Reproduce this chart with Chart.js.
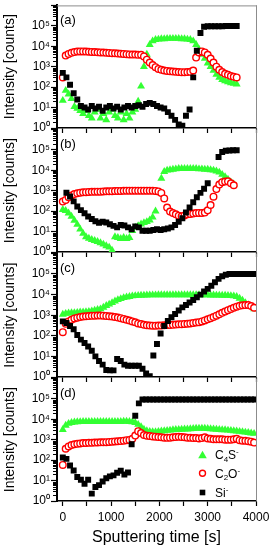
<!DOCTYPE html>
<html><head><meta charset="utf-8">
<script src="https://cdn.jsdelivr.net/npm/chart.js@4.4.0/dist/chart.umd.min.js"></script>
<style>
html,body{margin:0;padding:0;background:#fff;}
#wrap{position:relative;width:271px;height:550px;overflow:hidden;background:#fff;}
canvas{position:absolute;left:0;}
</style></head><body><div id="wrap"></div>
<script>
// ---------- data ----------
const tDense = [0,60,120,180,240,300,360,420,480,540,600,660,720,780,840,900,960,1020,1080,1140,1200,1260,1320,1380,1440,1500,1560,1620,1680,1740,1800,1860,1920,1980,2040,2100,2160,2220,2280,2340,2400,2460,2520,2580,2640,2700,2760,2820,2880,2940,3000,3060,3120,3180,3240,3300,3360,3420,3480,3540,3600,3660,3720,3780,3840,3900,3960];
const tSi = [0,75,150,225,300,375,450,525,600,675,750,825,900,975,1050,1125,1200,1275,1350,1425,1500,1575,1650,1725,1800,1875,1950,2025,2100,2175,2250,2325,2400,2475,2550,2625,2700,2775,2850,2925,3000,3075,3150,3225,3300,3375,3450,3525,3600,3675,3750,3825,3900,3975];

// panel (a)
const aC4S = [22,68,45,27,11,9,7,5,7,4, 3,6,8,3,5,2.5,6,8,4,3, 6,2.5,5,3,6,8,20,110,1000,4000, 12000,18000,21000,22000,23000,23000,24000,24000,24000,24000, 24000,23000,23000,22000,21000,18000,12000,7000,4000,2500, 1500,1000,650,420,300,230,200,180,160,150, 140];
const aC2O = [300,3500,4200,4800,5200,5500,5600,5600,5500,5400, 5300,5200,5100,5000,4900,4800,4700,4600,4500,4400, 4300,4200,4100,4000,3900,3900,3800,3800,3200,2200, 1600,1200,950,780,700,650,620,600,580,560, 550,540,540,550,560,650,2800,5000,5600,5000, 3800,2500,1600,1000,700,550,450,400,350,320, 300];
const aSi = [500,300,130,50,25,12,10,8,12,9, 11,7,10,12,9,11,8,10,12,10, 12,13,11,15,17,15,12,10,9,6, 4,2.5,1.5,1.3,4,8,300,6000,45000,90000, 95000,95000,95000,95000,95000,98000,98000,98000,98000];

// panel (b)
const bC4S = [118,105,80,55,35,22,13,8,5.5,4.6, 4,3.6,3.2,2.8,2.4,2,1.7,1.2,5.5,5, 4.5,5,4.5,5,11,16,19,23,27,30, 36,50,100,800,4000,8500,10000,10500,11000,11500, 12000,12000,12000,12000,12000,12000,12000,11500,11500,11000, 11000,10500,10000,9000,8000,6200,4800,3600,2600,2100];
const bC2O = [295,355,480,590,680,750,800,830,850,870, 880,890,900,900,920,930,940,950,960,970, 980,990,1000,1000,1000,1000,1000,1000,1000,1000, 1000,990,970,920,780,420,150,95,80,70, 60,56,62,70,73,76,80,82,82,85, 110,200,510,1200,2000,2600,2800,2900,2300,1850];
const bSi = [null,800,520,300,170,112,78,55,41,32, 27,30,28,23,19,16,21,20,16,13, 18,16,11,11,11,12,13,12,13,14, 16,21,30,45,85,150,270,480,780,1250, 2300,null,null,45000,78000,90000,92000,95000,95000];

// panel (c)
const cC4S = [1100,1200,1250,1300,1300,1350,1400,1400,1450,1500, 1600,1700,1850,2000,2400,2900,3400,4000,4800,5600, 6300,7000,7500,8000,8500,8800,9000,9200,9300,9400, 9500,9500,9500,9600,9600,9600,9600,9600,9600,9600, 9600,9600,9600,9600,9600,9600,9600,9600,9500,9500, 9500,9400,9400,9300,9300,9200,9100,9000,8800,8500, 8000,6500,5200,4000,3200,2600,2000];
const cC2O = [150,380,500,600,700,760,820,860,890,910, 930,950,960,960,950,920,890,860,820,770, 720,660,600,550,500,450,400,370,340,325, 315,310,310,315,320,325,330,335,340,350, 360,365,375,385,400,420,440,460,500,560, 630,720,820,950,1100,1300,1500,1750,2000,2300, 2600,2850,3000,3100,3100,2800,2300];
const cSi = [500,420,300,210,110,65,45,30,19,10, 6,4,2.2,2.1,2.1,7.5,6,4,3.5,3.5, 3.5,3.5,2.5,1.5,1.1,11,40,130,300,520, 800,1150,1700,2400,3100,4100,5500,7500,10000,14000, 19000,27000,40000,58000,78000,92000,100000,100000,100000,100000, 100000,100000,100000,100000];

// panel (d)
const dC4S = [3100,5000,6200,6800,7200,7400,7500,7600,7600,7600, 7700,7700,7700,7700,7700,7700,7700,7600,7600,7600, 7700,7800,7800,7700,7400,6800,5500,4200,3200,2700, 2500,2400,2400,2500,2600,2700,2800,2900,3000,3100, 3100,3200,3300,3300,3400,3500,3600,3600,3600,3600, 3500,3400,3300,3200,3100,3000,3000,2900,2800,2700, 2600,2500,2400,2300,2200,2100,2000];
const dC2O = [58,360,470,550,600,630,660,680,690,700, 710,720,730,740,750,760,780,800,820,840, 860,900,950,980,1100,1600,2600,2100,1700,1550, 1500,1450,1400,1350,1300,1250,1230,1250,1300,1350, 1380,1350,1300,1250,1230,1200,1200,1150,1200,1300, 1150,1100,1050,1050,1050,1050,1000,1000,1000,1050, 1100,950,900,880,850,800,720];
const dSi = [135,115,55,31,15,11,7,11,2.3,4.8, 6,9,13,16,18,24,30,20,25,600, 15000,60000,92000,92000,92000,92000,92000,92000,92000,92000, 92000,92000,92000,92000,92000,92000,92000,92000,92000,92000, 92000,92000,92000,92000,92000,92000,92000,92000,92000,92000, 92000,92000,92000,92000];

// axes / labels
const yMajor = [1,10,100,1000,10000,100000,1000000];
const yTickLabels = ['10\u2070','10\u00B9','10\u00B2','10\u00B3','10\u2074','10\u2075'];
const xTickValues = [0,500,1000,1500,2000,2500,3000,3500,4000];
const xLabelValues = [0,1000,2000,3000,4000];
const xTickLabels = ['0','1000','2000','3000','4000'];
const panelLabels = ['(a)','(b)','(c)','(d)'];
const yTitle = 'Intensity [counts]';
const xTitle = 'Sputtering time [s]';

// ---------- drawing ----------
const FONT = "'Liberation Sans', Arial, Helvetica, sans-serif";
const yAllTicks = [];
for (let d = 0; d < 6; d++) { for (let m = 1; m <= 9; m++) yAllTicks.push(m * yMajor[d]); }
yAllTicks.push(1000000);
const yMinor = yAllTicks.filter(v => !yMajor.includes(v));

const panels = [
  {label: panelLabels[0], top: 4,   bottom: 128, c4s: aC4S, c2o: aC2O, si: aSi},
  {label: panelLabels[1], top: 128, bottom: 252, c4s: bC4S, c2o: bC2O, si: bSi},
  {label: panelLabels[2], top: 252, bottom: 377, c4s: cC4S, c2o: cC2O, si: cSi},
  {label: panelLabels[3], top: 377, bottom: 501, c4s: dC4S, c2o: dC2O, si: dSi}
];

function series(times, vals) {
  const out = [];
  vals.forEach((v, i) => { if (v !== null) out.push({x: times[i], y: v}); });
  return out;
}

function drawFormula(ctx, x, cy, parts) {
  const base = cy + 4.3;
  parts.forEach(([txt, kind]) => {
    let dy = 0;
    if (kind === 'n') { ctx.font = '12px ' + FONT; }
    else if (kind === 'sub') { ctx.font = '8px ' + FONT; dy = 2.5; }
    else { ctx.font = '8px ' + FONT; dy = -5; }
    ctx.fillText(txt, x, base + dy);
    x += ctx.measureText(txt).width;
  });
}

const wrap = document.getElementById('wrap');
panels.forEach((p, idx) => {
  const isBottom = idx === panels.length - 1;
  const canvasTop = p.top - 4;
  const canvasH = isBottom ? 550 - canvasTop : (p.bottom - p.top) + 4 + 10;
  const xAxisH = canvasH - 4 - (p.bottom - p.top);
  const cv = document.createElement('canvas');
  cv.width = 271; cv.height = canvasH;
  cv.style.top = canvasTop + 'px';
  cv.style.width = '271px'; cv.style.height = canvasH + 'px';
  wrap.appendChild(cv);

  const deco = {
    id: 'deco' + idx,
    afterDraw(chart) {
      const {ctx, chartArea: ca, scales} = chart;
      ctx.save();
      ctx.strokeStyle = '#8c8c8c'; ctx.lineWidth = 1;
      ctx.beginPath(); ctx.moveTo(ca.right + 0.5, ca.top); ctx.lineTo(ca.right + 0.5, ca.bottom); ctx.stroke();
      if (idx === 0) {
        ctx.beginPath(); ctx.moveTo(ca.left, ca.top + 0.5); ctx.lineTo(ca.right + 1, ca.top + 0.5); ctx.stroke();
      }
      ctx.strokeStyle = '#000'; ctx.lineWidth = 1;
      yMinor.forEach(v => {
        const y = Math.round(scales.y.getPixelForValue(v)) + 0.5;
        ctx.beginPath(); ctx.moveTo(ca.left - 4, y); ctx.lineTo(ca.left, y); ctx.stroke();
      });
      ctx.fillStyle = '#000';
      ctx.textAlign = 'left'; ctx.textBaseline = 'alphabetic';
      ctx.font = '13px ' + FONT;
      ctx.fillText(p.label, ca.left + 3, ca.top + 18.5);
      ctx.save();
      ctx.translate(14, (ca.top + ca.bottom) / 2);
      ctx.rotate(-Math.PI / 2);
      ctx.font = '14px ' + FONT; ctx.textAlign = 'center'; ctx.textBaseline = 'alphabetic';
      ctx.fillText(yTitle, 0, 0);
      ctx.restore();
      if (isBottom) {
        ctx.font = '16px ' + FONT; ctx.textAlign = 'center';
        ctx.fillText(xTitle, (ca.left + ca.right) / 2, 542 - canvasTop);
        // legend
        const off = canvasTop;
        const lx = 202.5, tx = 215;
        const y1 = 455 - off, y2 = 473.3 - off, y3 = 492.5 - off;
        ctx.fillStyle = '#33ff33';
        ctx.beginPath();
        ctx.moveTo(lx, y1 - 4.3); ctx.lineTo(lx + 4.3, y1 + 3.2); ctx.lineTo(lx - 4.3, y1 + 3.2); ctx.closePath(); ctx.fill();
        ctx.strokeStyle = '#ff0000'; ctx.lineWidth = 1.4; ctx.fillStyle = '#fff';
        ctx.beginPath(); ctx.arc(lx, y2, 3, 0, Math.PI * 2); ctx.fill(); ctx.stroke();
        ctx.fillStyle = '#000';
        ctx.fillRect(lx - 2.8, y3 - 2.8, 5.6, 5.6);
        ctx.textAlign = 'left';
        drawFormula(ctx, tx, y1, [['C','n'],['4','sub'],['S','n'],['-','sup']]);
        drawFormula(ctx, tx, y2, [['C','n'],['2','sub'],['O','n'],['-','sup']]);
        drawFormula(ctx, tx, y3, [['Si','n'],['-','sup']]);
      }
      ctx.restore();
    }
  };

  new Chart(cv, {
    type: 'scatter',
    data: {
      datasets: [
        {label: 'Si-', data: series(tSi, p.si), showLine: false, pointStyle: 'rect', pointRadius: 4.2,
         pointBackgroundColor: '#000', pointBorderColor: '#000', pointBorderWidth: 0, backgroundColor: '#000'},
        {label: 'C2O-', data: series(tDense, p.c2o), showLine: false, pointStyle: 'circle', pointRadius: 3.3,
         pointBackgroundColor: '#fff', pointBorderColor: '#ff0000', pointBorderWidth: 1.4, backgroundColor: '#fff'},
        {label: 'C4S-', data: series(tDense, p.c4s), showLine: false, pointStyle: 'triangle', pointRadius: 4.6,
         pointBackgroundColor: '#33ff33', pointBorderColor: '#33ff33', pointBorderWidth: 0, backgroundColor: '#33ff33'}
      ]
    },
    options: {
      responsive: false, animation: false, devicePixelRatio: 1, events: [],
      layout: {padding: {top: 4, left: 0, right: 15, bottom: 0}},
      plugins: {legend: {display: false}, tooltip: {enabled: false}},
      scales: {
        x: {
          type: 'linear', min: -120, max: 4000,
          afterBuildTicks: s => { s.ticks = xTickValues.map(v => ({value: v})); },
          afterFit: s => { s.height = xAxisH; s.paddingLeft = 0; s.paddingRight = 0; },
          ticks: {display: isBottom, autoSkip: false, maxRotation: 0, padding: 4, color: '#000',
            font: {family: FONT, size: 12},
            callback: v => { const i = xLabelValues.indexOf(v); return i >= 0 ? xTickLabels[i] : ''; }},
          grid: {display: true, drawOnChartArea: false, drawTicks: true, tickLength: 5, tickWidth: 1.2, tickColor: '#000'},
          border: {display: true, color: '#000', width: 1.5}
        },
        y: {
          type: 'logarithmic', min: 1, max: 1000000,
          afterBuildTicks: s => { s.ticks = yAllTicks.map(v => ({value: v})); },
          afterFit: s => { s.width = 57; s.paddingTop = 0; s.paddingBottom = 0; },
          ticks: {autoSkip: false, maxRotation: 0, padding: 1, color: '#000',
            font: {family: FONT, size: 12},
            callback: v => { const i = yMajor.indexOf(v); return (i >= 0 && i < yTickLabels.length) ? yTickLabels[i] : ''; }},
          grid: {display: true, drawOnChartArea: false, drawTicks: true, tickLength: 6, tickWidth: 1.2,
            tickColor: c => (c.tick && yMajor.includes(c.tick.value)) ? '#000' : 'rgba(0,0,0,0)'},
          border: {display: true, color: '#000', width: 2}
        }
      }
    },
    plugins: [deco]
  });
});
</script>
</body></html>
